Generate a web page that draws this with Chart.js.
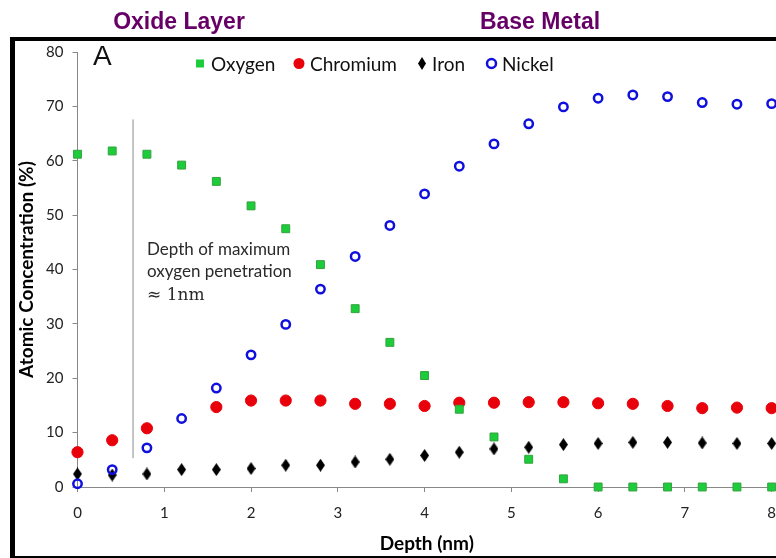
<!DOCTYPE html>
<html>
<head>
<meta charset="utf-8">
<script src="https://cdn.jsdelivr.net/npm/chart.js@4.4.1/dist/chart.umd.min.js"></script>
<style>
  html, body { margin: 0; padding: 0; background: #fff; }
  #wrap { width: 776px; height: 558px; position: relative; }
</style>
</head>
<body>
<div id="wrap"><canvas id="depthChart" width="776" height="558"></canvas></div>
<script>
// ── 데이터 ──
var depth = [0, 0.4, 0.8, 1.2, 1.6, 2.0, 2.4, 2.8, 3.2, 3.6, 4.0, 4.4, 4.8, 5.2, 5.6, 6.0, 6.4, 6.8, 7.2, 7.6, 8.0];
var oxygen   = [61.2, 61.8, 61.2, 59.2, 56.2, 51.7, 47.5, 40.9, 32.8, 26.6, 20.5, 14.3, 9.2, 5.1, 1.5, 0, 0, 0, 0, 0, 0];
var chromium = [6.4, 8.6, 10.8, null, 14.7, 15.9, 15.9, 15.9, 15.3, 15.3, 14.9, 15.5, 15.5, 15.6, 15.6, 15.4, 15.3, 14.9, 14.5, 14.6, 14.5];
var iron     = [2.4, 2.2, 2.4, 3.2, 3.2, 3.4, 4.0, 4.0, 4.6, 5.1, 5.8, 6.4, 7.0, 7.3, 7.8, 8.0, 8.2, 8.2, 8.1, 8.0, 8.0];
var nickel   = [0.6, 3.2, 7.2, 12.6, 18.2, 24.3, 29.9, 36.4, 42.4, 48.1, 53.9, 59.0, 63.1, 66.8, 69.9, 71.5, 72.1, 71.8, 70.7, 70.4, 70.5];

var seriesNames = ['Oxygen', 'Chromium', 'Iron', 'Nickel'];
var markerLine = { x: 0.64, yFrom: 5.3, yTo: 67.6 };
var noteLines = ['Depth of maximum', 'oxygen penetration'];
var noteMath = '\u2248 1nm';
var regionTitles = ['Oxide Layer', 'Base Metal'];

// 원본 그림은 오른쪽이 잘려 있어 축이 8 너머까지 이어짐
var xMin = 0, xMax = 8.05, xStep = 1;
var yMin = 0, yMax = 80, yStep = 10;

// ── 마름모 마커 ──
function makeDiamond(w, h) {
  var c = document.createElement('canvas');
  c.width = w; c.height = h;
  var g = c.getContext('2d');
  g.fillStyle = '#000';
  g.beginPath();
  g.moveTo(w / 2, 0);
  g.lineTo(w, h / 2);
  g.lineTo(w / 2, h);
  g.lineTo(0, h / 2);
  g.closePath();
  g.fill();
  return c;
}

function toPoints(values) {
  var pts = [];
  for (var i = 0; i < depth.length; i++) {
    if (values[i] !== null) pts.push({ x: depth[i], y: values[i] });
  }
  return pts;
}

// ── 프레임 / 범례 / 주석 ──
var decorPlugin = {
  id: 'decor',
  afterDraw: function(chart) {
    var ctx = chart.ctx;
    ctx.save();

    // 바깥 테두리
    ctx.strokeStyle = '#000';
    ctx.lineWidth = 5;
    ctx.beginPath();
    ctx.moveTo(12.5, 37);
    ctx.lineTo(12.5, 558);
    ctx.stroke();
    ctx.lineWidth = 4;
    ctx.beginPath();
    ctx.moveTo(10, 39);
    ctx.lineTo(776, 39);
    ctx.stroke();
    ctx.lineWidth = 2;
    ctx.beginPath();
    ctx.moveTo(10, 557);
    ctx.lineTo(776, 557);
    ctx.stroke();

    // 상단 제목
    ctx.fillStyle = '#660066';
    ctx.font = 'bold 23px "Liberation Sans", Arial, sans-serif';
    ctx.textAlign = 'center';
    ctx.textBaseline = 'alphabetic';
    ctx.fillText(regionTitles[0], 179, 29);
    ctx.fillText(regionTitles[1], 540, 29);

    // 패널 라벨
    ctx.fillStyle = '#111';
    ctx.font = '28px "Liberation Sans", Arial, sans-serif';
    ctx.textAlign = 'left';
    ctx.fillText('A', 93, 65);

    // 범례
    ctx.fillStyle = '#1ccc3a';
    ctx.fillRect(196, 59.5, 8, 8);
    ctx.fillStyle = '#e8000a';
    ctx.beginPath();
    ctx.arc(299, 63.5, 5.5, 0, Math.PI * 2);
    ctx.fill();
    ctx.drawImage(makeDiamond(8, 13), 418, 57);
    ctx.strokeStyle = '#1010dd';
    ctx.lineWidth = 2.5;
    ctx.beginPath();
    ctx.arc(491.5, 63.5, 4.5, 0, Math.PI * 2);
    ctx.stroke();

    ctx.fillStyle = '#111';
    ctx.font = '19px Lato, "Open Sans", sans-serif';
    ctx.fillText(seriesNames[0], 211, 71);
    ctx.fillText(seriesNames[1], 310, 71);
    ctx.fillText(seriesNames[2], 432, 71);
    ctx.fillText(seriesNames[3], 502, 71);

    // 주석
    ctx.fillStyle = '#2a2a2a';
    ctx.font = '17px Lato, "Open Sans", sans-serif';
    ctx.fillText(noteLines[0], 147, 255);
    ctx.fillText(noteLines[1], 147, 277);
    ctx.font = '17px "DejaVu Serif", "Liberation Serif", serif';
    ctx.fillText(noteMath, 147, 300);

    ctx.restore();
  }
};

// ── 차트 ──
var ctx = document.getElementById('depthChart').getContext('2d');
var chart = new Chart(ctx, {
  type: 'scatter',
  data: {
    datasets: [
      {
        label: seriesNames[0],
        data: toPoints(oxygen),
        pointStyle: 'rect',
        pointRadius: 5.6,
        backgroundColor: '#1ccc3a',
        borderColor: '#35a23f',
        borderWidth: 1,
        order: 1
      },
      {
        label: seriesNames[1],
        data: toPoints(chromium),
        pointStyle: 'circle',
        pointRadius: 5.6,
        backgroundColor: '#e8000a',
        borderColor: '#e8000a',
        borderWidth: 1,
        order: 2
      },
      {
        label: seriesNames[3],
        data: toPoints(nickel),
        pointStyle: 'circle',
        pointRadius: 4.2,
        backgroundColor: 'rgba(255,255,255,0)',
        borderColor: '#1010dd',
        borderWidth: 2.5,
        order: 3
      },
      {
        label: seriesNames[2],
        data: toPoints(iron),
        pointStyle: makeDiamond(9, 13),
        order: 4
      },
      {
        type: 'line',
        label: 'marker',
        data: [{ x: markerLine.x, y: markerLine.yFrom }, { x: markerLine.x, y: markerLine.yTo }],
        borderColor: '#8a8a8a',
        borderWidth: 1,
        pointRadius: 0,
        order: 5
      }
    ]
  },
  options: {
    responsive: false,
    animation: false,
    events: [],
    clip: false,
    layout: { autoPadding: false, padding: { left: 0, top: 52, right: 0, bottom: 0 } },
    plugins: {
      legend: { display: false },
      tooltip: { enabled: false }
    },
    scales: {
      x: {
        type: 'linear',
        min: xMin,
        max: xMax,
        afterFit: function(scale) {
          scale.height = 71;
          scale.paddingLeft = 0;
          scale.paddingRight = 0;
        },
        grid: { display: true, drawOnChartArea: false, color: '#888', tickLength: 5 },
        border: { display: true, color: '#888', width: 1 },
        ticks: {
          stepSize: xStep,
          includeBounds: false,
          padding: 12,
          color: '#222',
          font: { family: 'Lato', size: 15 }
        },
        title: {
          display: true,
          text: 'Depth (nm)',
          color: '#000',
          font: { family: 'Lato', size: 19, weight: 'bold' },
          padding: { top: 0, bottom: 3 }
        }
      },
      y: {
        type: 'linear',
        min: yMin,
        max: yMax,
        afterFit: function(scale) {
          scale.width = 77.5;
        },
        grid: { display: true, drawOnChartArea: false, color: '#888', tickLength: 5 },
        border: { display: true, color: '#888', width: 1 },
        ticks: {
          stepSize: yStep,
          padding: 9,
          color: '#222',
          font: { family: 'Lato', size: 15 }
        },
        title: {
          display: true,
          text: 'Atomic Concentration (%)',
          color: '#000',
          font: { family: 'Lato', size: 19, weight: 'bold' },
          padding: { top: 15, bottom: 0 }
        }
      }
    }
  },
  plugins: [decorPlugin]
});
</script>
</body>
</html>
